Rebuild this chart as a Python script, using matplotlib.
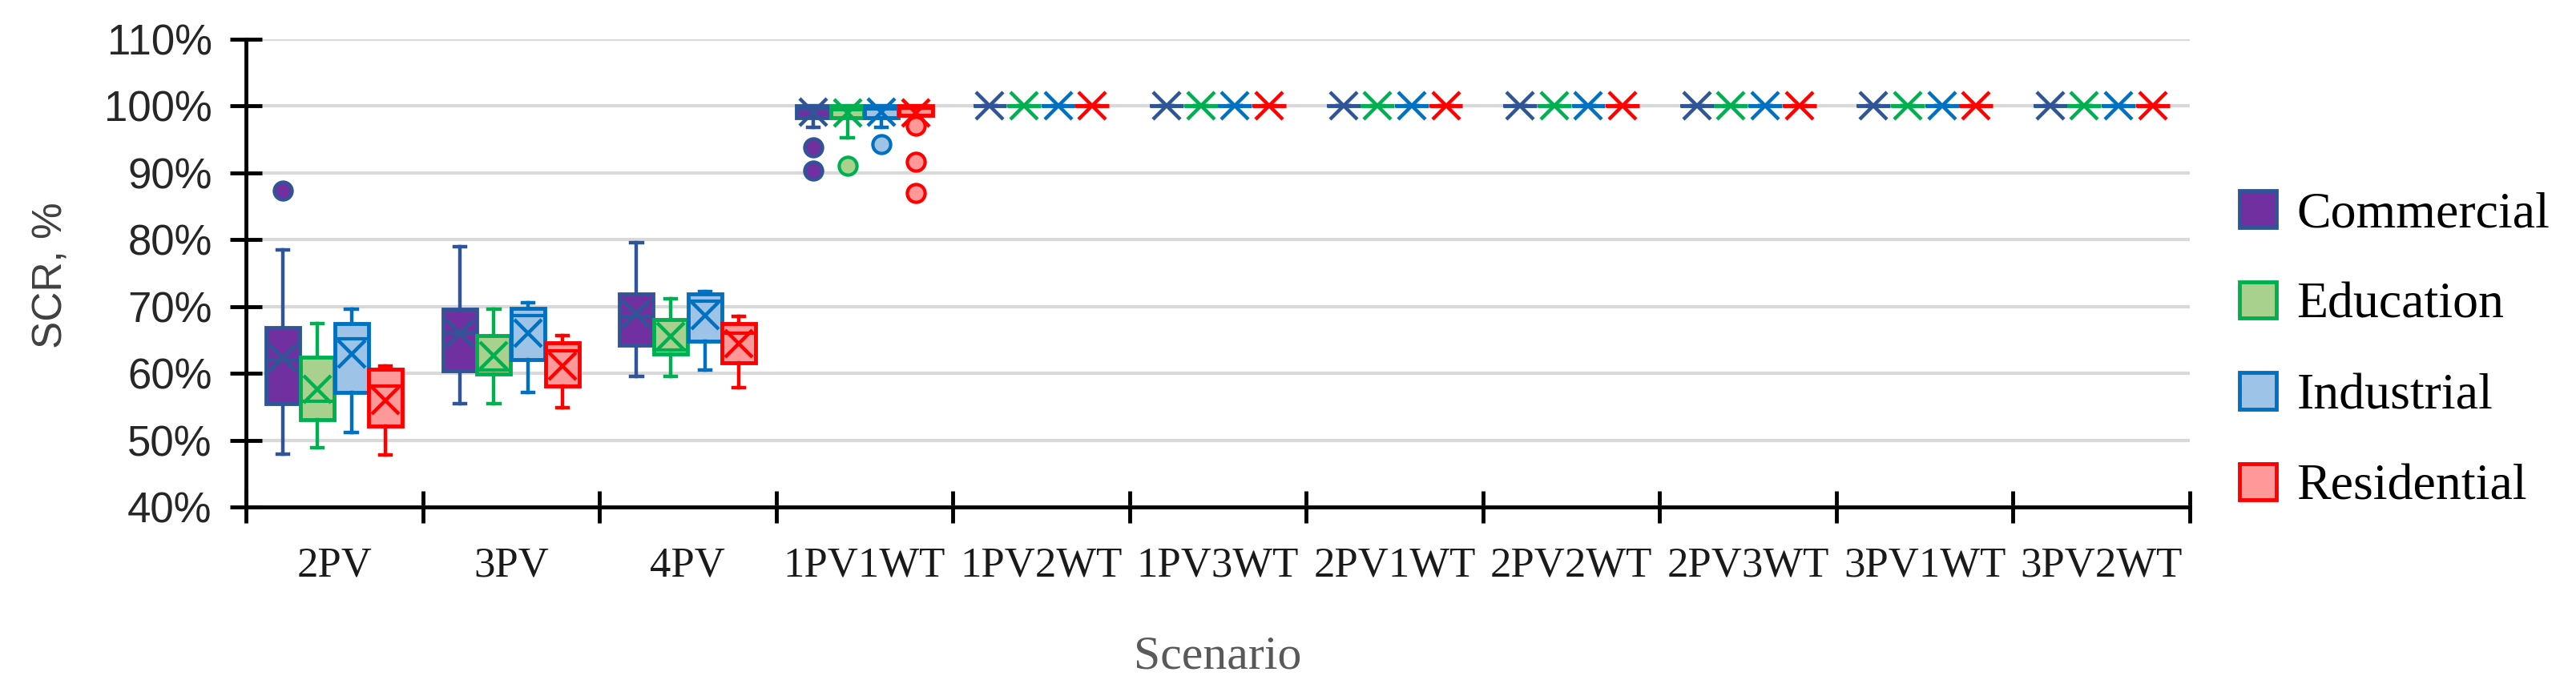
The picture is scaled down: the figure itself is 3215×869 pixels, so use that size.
import numpy as np
import matplotlib
matplotlib.use('Agg')
import matplotlib.pyplot as plt
from matplotlib.patches import Patch

scenarios = ['2PV', '3PV', '4PV', '1PV1WT', '1PV2WT', '1PV3WT',
             '2PV1WT', '2PV2WT', '2PV3WT', '3PV1WT', '3PV2WT']
series = ['Commercial', 'Education', 'Industrial', 'Residential']

# SCR in % : whisker low, Q1, median, Q3, whisker high, mean, outliers
com_lo   = [47.9, 55.5, 59.5, 96.8, 100, 100, 100, 100, 100, 100, 100]
com_q1   = [55.5, 60.4, 64.2, 98.3, 100, 100, 100, 100, 100, 100, 100]
com_med  = [62.0, 66.0, 68.5, 99.6, 100, 100, 100, 100, 100, 100, 100]
com_q3   = [66.8, 69.6, 71.9, 100, 100, 100, 100, 100, 100, 100, 100]
com_hi   = [78.5, 79.0, 79.5, 100, 100, 100, 100, 100, 100, 100, 100]
com_mean = [62.3, 66.0, 68.9, 99.1, 100, 100, 100, 100, 100, 100, 100]
com_out  = [[87.4], [], [], [93.8, 90.4], [], [], [], [], [], [], []]

edu_lo   = [48.9, 55.5, 59.5, 95.3, 100, 100, 100, 100, 100, 100, 100]
edu_q1   = [53.1, 59.9, 62.9, 98.3, 100, 100, 100, 100, 100, 100, 100]
edu_med  = [55.8, 60.5, 63.5, 99.5, 100, 100, 100, 100, 100, 100, 100]
edu_q3   = [62.4, 65.7, 68.0, 100, 100, 100, 100, 100, 100, 100, 100]
edu_hi   = [67.4, 69.6, 71.2, 100, 100, 100, 100, 100, 100, 100, 100]
edu_mean = [57.6, 62.6, 65.5, 99.0, 100, 100, 100, 100, 100, 100, 100]
edu_out  = [[], [], [], [91.1], [], [], [], [], [], [], []]

ind_lo   = [51.1, 57.1, 60.5, 96.8, 100, 100, 100, 100, 100, 100, 100]
ind_q1   = [57.1, 62.1, 64.8, 98.3, 100, 100, 100, 100, 100, 100, 100]
ind_med  = [65.2, 68.7, 70.8, 99.6, 100, 100, 100, 100, 100, 100, 100]
ind_q3   = [67.4, 69.7, 71.9, 100, 100, 100, 100, 100, 100, 100, 100]
ind_hi   = [69.6, 70.6, 72.2, 100, 100, 100, 100, 100, 100, 100, 100]
ind_mean = [62.9, 66.0, 68.7, 99.1, 100, 100, 100, 100, 100, 100, 100]
ind_out  = [[], [], [], [94.3], [], [], [], [], [], [], []]

res_lo   = [47.8, 54.9, 57.8, 98.0, 100, 100, 100, 100, 100, 100, 100]
res_q1   = [52.1, 58.1, 61.6, 98.6, 100, 100, 100, 100, 100, 100, 100]
res_med  = [58.1, 63.4, 66.0, 99.7, 100, 100, 100, 100, 100, 100, 100]
res_q3   = [60.6, 64.6, 67.4, 100, 100, 100, 100, 100, 100, 100, 100]
res_hi   = [61.1, 65.7, 68.5, 100, 100, 100, 100, 100, 100, 100, 100]
res_mean = [56.0, 61.1, 64.5, 99.0, 100, 100, 100, 100, 100, 100, 100]
res_out  = [[], [], [], [97.0, 91.7, 87.0], [], [], [], [], [], [], []]

stats = [
    (com_lo, com_q1, com_med, com_q3, com_hi, com_mean, com_out),
    (edu_lo, edu_q1, edu_med, edu_q3, edu_hi, edu_mean, edu_out),
    (ind_lo, ind_q1, ind_med, ind_q3, ind_hi, ind_mean, ind_out),
    (res_lo, res_q1, res_med, res_q3, res_hi, res_mean, res_out),
]
fills = ['#7030A0', '#A9D18E', '#9DC3E6', '#FF9999']
edges = ['#2F5597', '#00B050', '#0070C0', '#FF0000']
offsets = [-0.29, -0.097, 0.097, 0.29]

fig = plt.figure(figsize=(32.15, 8.69), dpi=100)
ax = fig.add_axes([307/3215, 1-633/869, (2733-307)/3215, (633-49)/869])

centers = np.arange(len(scenarios)) + 0.5
for k, (lo, q1, med, q3, hi, mean, out) in enumerate(stats):
    bx = [dict(whislo=lo[i], q1=q1[i], med=med[i], q3=q3[i], whishi=hi[i],
               mean=mean[i], fliers=out[i]) for i in range(len(scenarios))]
    ec = edges[k]
    ax.bxp(bx, positions=centers + offsets[k], widths=0.19, capwidths=0.065,
           patch_artist=True, showmeans=True, manage_ticks=False, zorder=3 + k,
           boxprops=dict(facecolor=fills[k], edgecolor=ec, linewidth=3.5),
           whiskerprops=dict(color=ec, linewidth=3.2),
           capprops=dict(color=ec, linewidth=3.2),
           medianprops=dict(color=ec, linewidth=3),
           meanprops=dict(marker='x', markeredgecolor=ec, markersize=25, markeredgewidth=3.2),
           flierprops=dict(marker='o', markerfacecolor=fills[k], markeredgecolor=ec,
                           markersize=16, markeredgewidth=3))

ax.set_xlim(0, len(scenarios))
ax.set_ylim(40, 110)
ax.set_yticks(np.arange(40, 111, 10))
ax.set_yticklabels([f'{v}%' for v in range(40, 111, 10)], fontsize=38,
                   family='Liberation Sans', color='#262626')
ax.set_xticks(np.arange(len(scenarios) + 1))
ax.set_xticklabels([])
ax.set_xticks(centers, minor=True)
ax.set_xticklabels(scenarios, minor=True, fontsize=38, family='Liberation Serif', color='#1a1a1a')
ax.tick_params(axis='both', which='major', direction='inout', length=29, width=3.5, color='black')
ax.tick_params(axis='y', pad=16)
ax.tick_params(axis='x', which='minor', length=0, pad=36)
ax.grid(axis='y', color='#D9D9D9', linewidth=3, zorder=0)
ax.set_axisbelow(True)
for s in ['top', 'right']:
    ax.spines[s].set_visible(False)
for s in ['left', 'bottom']:
    ax.spines[s].set_linewidth(3.5)
    ax.spines[s].set_zorder(10)

ax.set_ylabel('SCR, %', fontsize=37, family='Liberation Sans', color='#404040')
ax.yaxis.set_label_coords(-0.090, 0.495)
ax.set_xlabel('Scenario', fontsize=43, family='Liberation Serif', color='#595959')
ax.xaxis.set_label_coords(0.5, -0.274)

handles = [Patch(facecolor=f, edgecolor=e, linewidth=3.5) for f, e in zip(fills, edges)]
fig.legend(handles, series, loc='center left', bbox_to_anchor=(2795/3215, 1-438/869),
           frameon=False, prop=dict(family='Liberation Serif', size=46),
           handlelength=0.72, handleheight=0.72, labelspacing=0.85,
           handletextpad=0.4, borderpad=0, borderaxespad=0)

fig.savefig('out.png', dpi=100)
